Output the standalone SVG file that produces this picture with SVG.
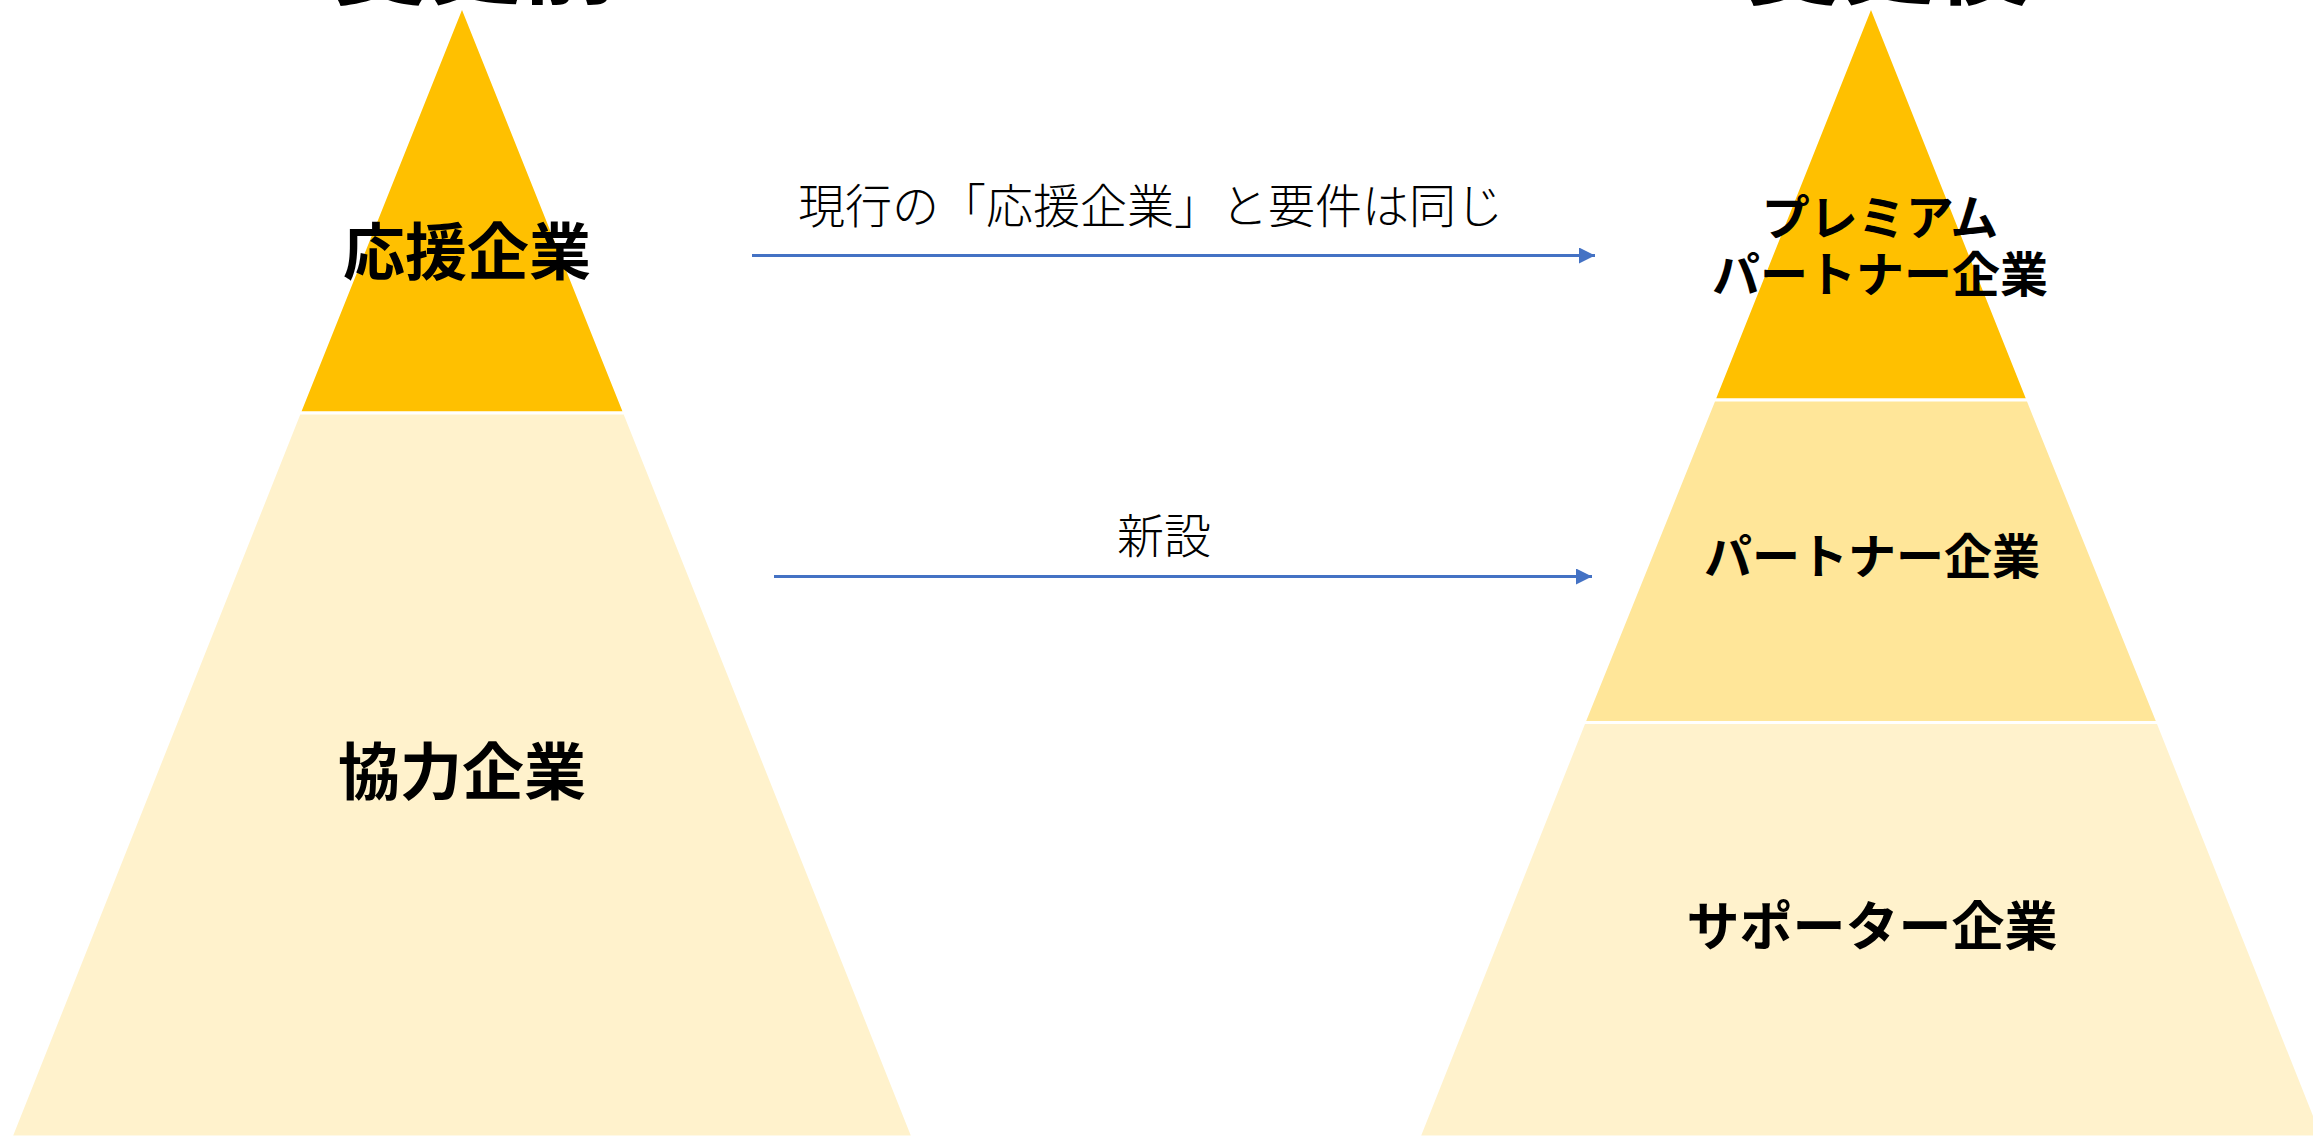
<svg xmlns="http://www.w3.org/2000/svg" width="2313" height="1137" viewBox="0 0 2313 1137">
<style>
.band{stroke:#FFFFFF;stroke-width:3;stroke-linejoin:miter}
.gold{fill:#FFC000}
.mid{fill:#FFE699}
.pale{fill:#FFF2CC}
.lbl{font-family:"Noto Sans CJK JP","Noto Sans",sans-serif;font-weight:700;fill:#000;text-anchor:middle}
.note{font-family:"Noto Sans CJK JP","Noto Sans",sans-serif;font-weight:300;fill:#000;text-anchor:middle;font-size:47px}
.conn{stroke:#4472C4;stroke-width:3;fill:none}
</style>
<defs>
<marker id="ah" markerUnits="userSpaceOnUse" markerWidth="16" markerHeight="16" viewBox="0 0 16 16" refX="16" refY="8" orient="auto">
<path d="M0,0 L16,8 L0,16 Z" fill="#4472C4"/>
</marker>
</defs>
<g id="title-before"><text class="lbl" x="475" y="-3" font-size="95">変更前</text></g>
<g id="title-after"><text class="lbl" x="1888" y="-3" font-size="95">変更後</text></g>
<g id="left-top">
<polygon class="band gold" points="462,6 624.7,413 299.3,413"/>
<text class="lbl" x="467" y="274.6" font-size="62">応援企業</text>
</g>
<g id="left-bottom">
<polygon class="band pale" points="299.3,413 624.7,413 913,1137 11,1137"/>
<text class="lbl" x="462" y="794.6" font-size="62">協力企業</text>
</g>
<g id="right-top">
<polygon class="band gold" points="1871,6 2028,400 1714,400"/>
<text class="lbl" x="1880" y="234.7" font-size="48">プレミアム</text>
<text class="lbl" x="1880" y="291.7" font-size="48">パートナー企業</text>
</g>
<g id="right-mid">
<polygon class="band mid" points="1714,400 2028,400 2158,722.5 1584,722.5"/>
<text class="lbl" x="1872" y="574" font-size="48">パートナー企業</text>
</g>
<g id="right-bottom">
<polygon class="band pale" points="1584,722.5 2158,722.5 2323,1137 1419,1137"/>
<text class="lbl" x="1872" y="946" font-size="53">サポーター企業</text>
</g>
<g id="connectors">
<line class="conn" x1="752" y1="255.5" x2="1595" y2="255.5" marker-end="url(#ah)"/>
<line class="conn" x1="774" y1="576.5" x2="1592" y2="576.5" marker-end="url(#ah)"/>
<text class="note" x="1150.6" y="222.9">現行の「応援企業」と要件は同じ</text>
<text class="note" x="1164" y="553.4">新設</text>
</g>
</svg>
